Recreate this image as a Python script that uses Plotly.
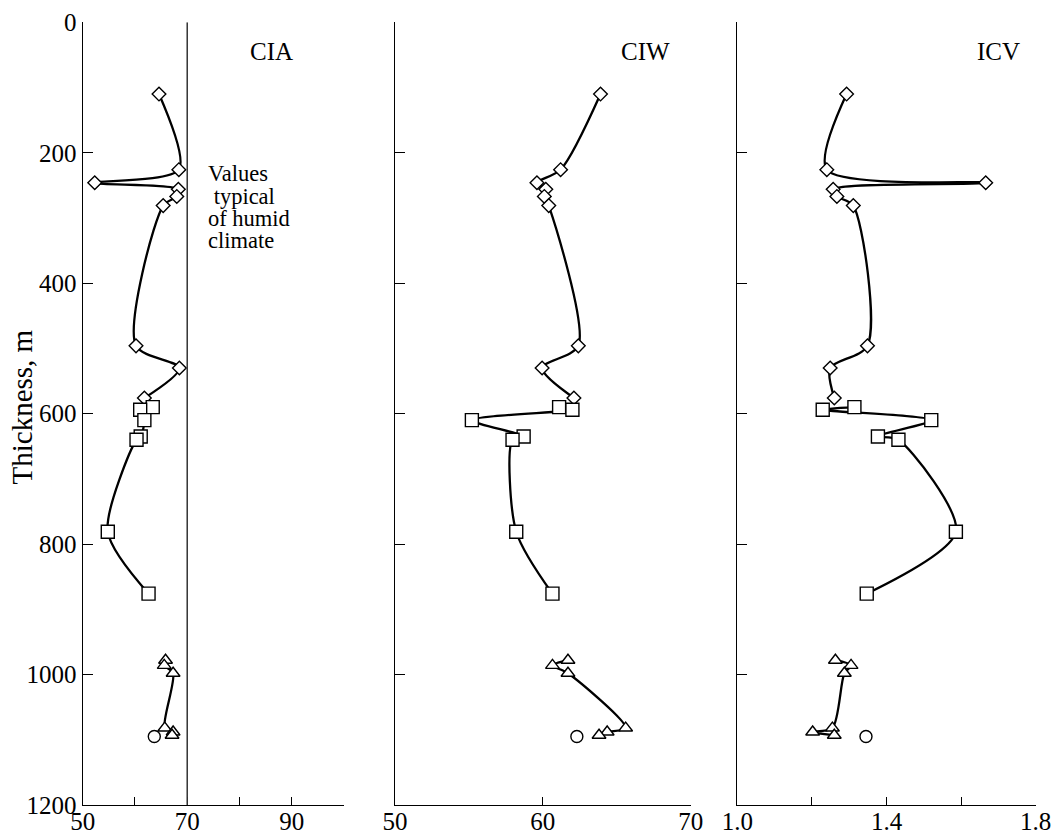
import plotly.graph_objects as go

# Sample depths (m) for each sample group
diamond_depth = [110, 226, 246, 256, 267, 281, 496, 530, 576]
square_depth = [590, 594, 610, 635, 640, 781, 876]
triangle_depth = [978, 986, 998, 1082, 1088, 1093]
circle_depth = [1095]

# CIA index
cia_diamond = [64.6, 68.4, 52.3, 68.3, 68.0, 65.4, 60.2, 68.5, 61.8]
cia_square = [63.4, 61.0, 61.8, 61.1, 60.3, 54.8, 62.6]
cia_triangle = [65.85, 65.6, 67.3, 65.7, 67.3, 67.1]
cia_circle = [63.7]

# CIW index
ciw_diamond = [63.9, 61.2, 59.6, 60.2, 60.1, 60.4, 62.4, 59.95, 62.1]
ciw_square = [61.1, 62.0, 55.2, 58.7, 57.95, 58.2, 60.65]
ciw_triangle = [61.7, 60.65, 61.7, 65.6, 64.35, 63.8]
ciw_circle = [62.3]

# ICV index
icv_diamond = [1.293, 1.240, 1.666, 1.257, 1.267, 1.311, 1.349, 1.249, 1.260]
icv_square = [1.314, 1.229, 1.520, 1.377, 1.432, 1.586, 1.347]
icv_triangle = [1.263, 1.305, 1.287, 1.255, 1.202, 1.260]
icv_circle = [1.345]

panel_titles = ["CIA", "CIW", "ICV"]
humid_threshold = 70
humid_label = ["Values", " typical", "of humid", "climate"]
y_title = "Thickness, m"

x_ticks = [
    ([50, 60, 70, 80, 90, 100], ["50", "", "70", "", "90", ""], [50, 100]),
    ([50, 60, 70], ["50", "60", "70"], [50, 70]),
    ([1.0, 1.2, 1.4, 1.6, 1.8], ["1.0", "", "1.4", "", "1.8"], [1.0, 1.8]),
]
y_ticks = [0, 200, 400, 600, 800, 1000, 1200]

W, H = 1053, 836
FONT = "Liberation Serif, Times New Roman, serif"

# pixel extents of each panel
panel_px = [(82.7, 344.0), (395.0, 690.7), (737.3, 1035.7)]
top_px, bottom_px = 22.3, 805.0

fig = go.Figure()

series = [
    (cia_diamond, cia_square, cia_triangle, cia_circle),
    (ciw_diamond, ciw_square, ciw_triangle, ciw_circle),
    (icv_diamond, icv_square, icv_triangle, icv_circle),
]

line_style = dict(color="black", width=2.3, shape="spline", smoothing=0.8)


def mk(symbol, size):
    return dict(symbol=symbol, size=size, color="white",
                line=dict(color="black", width=1.4))


for i, (dia, sq, tri, circ) in enumerate(series):
    xa = "x" if i == 0 else f"x{i+1}"
    ya = "y" if i == 0 else f"y{i+1}"
    fig.add_trace(go.Scatter(x=dia, y=diamond_depth, mode="lines+markers",
                             line=line_style, marker=mk("diamond", 10.5),
                             xaxis=xa, yaxis=ya, showlegend=False))
    fig.add_trace(go.Scatter(x=sq, y=square_depth, mode="lines+markers",
                             line=line_style, marker=mk("square", 13),
                             xaxis=xa, yaxis=ya, showlegend=False))
    fig.add_trace(go.Scatter(x=tri, y=triangle_depth, mode="lines+markers",
                             line=line_style, marker=mk("triangle-up", 12),
                             xaxis=xa, yaxis=ya, showlegend=False))
    fig.add_trace(go.Scatter(x=circ, y=circle_depth, mode="markers",
                             marker=mk("circle", 12),
                             xaxis=xa, yaxis=ya, showlegend=False))

layout = dict(
    width=W, height=H,
    margin=dict(l=0, r=0, t=0, b=0),
    paper_bgcolor="white", plot_bgcolor="white",
    font=dict(family=FONT, size=25, color="black"),
)

ydom = [1 - bottom_px / H, 1 - top_px / H]
for i in range(3):
    sfx = "" if i == 0 else str(i + 1)
    tv, tt, rng = x_ticks[i]
    x0, x1 = panel_px[i]
    layout[f"xaxis{sfx}"] = dict(
        domain=[x0 / W, x1 / W], range=rng, anchor=f"y{sfx}",
        tickvals=tv, ticktext=tt, ticks="inside", ticklen=8, tickwidth=1.3,
        tickcolor="black", showline=True, linecolor="black", linewidth=1.3,
        showgrid=False, zeroline=False, automargin=False,
        ticklabelstandoff=-6,
        tickfont=dict(family=FONT, size=25),
    )
    layout[f"yaxis{sfx}"] = dict(
        domain=ydom, range=[1200, 0], anchor=f"x{sfx}",
        tickvals=y_ticks, ticks="inside", ticklen=10, tickwidth=1.3,
        tickcolor="black", showline=True, linecolor="black", linewidth=1.3,
        showgrid=False, zeroline=False, automargin=False,
        showticklabels=(i == 0),
        tickfont=dict(family=FONT, size=25),
    )

fig.update_layout(**layout)

# threshold line for humid-climate values in the CIA panel
fig.add_shape(type="line", xref="x", yref="y", x0=humid_threshold, x1=humid_threshold,
              y0=0, y1=1200, line=dict(color="#333333", width=1.5))

# vertical axis title
fig.add_annotation(text=y_title, textangle=-90, x=21 / W, y=1 - 407.5 / H,
                   xref="paper", yref="paper", showarrow=False,
                   xanchor="center", yanchor="middle",
                   font=dict(family=FONT, size=29))

# panel titles
title_px = [271.7, 645.0, 998.0]
for t, px in zip(panel_titles, title_px):
    fig.add_annotation(text=t, x=px / W, y=1 - 52 / H, xref="paper", yref="paper",
                       showarrow=False, xanchor="center", yanchor="middle",
                       font=dict(family=FONT, size=25))

# text beside threshold line
baselines = [180.7, 203.5, 225.7, 247.3]
for line, b in zip(humid_label, baselines):
    fig.add_annotation(text=line.replace(" ", "&nbsp;"), x=206.0 / W, y=1 - (b - 7) / H,
                       xref="paper", yref="paper", showarrow=False,
                       xanchor="left", yanchor="middle",
                       font=dict(family=FONT, size=22.5))

fig.write_html("out.html")
